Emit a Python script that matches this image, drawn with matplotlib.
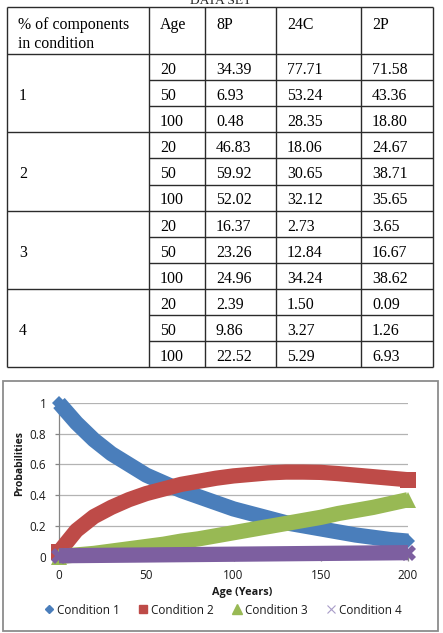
import matplotlib
matplotlib.use("Agg")
import matplotlib.pyplot as plt
from matplotlib.lines import Line2D
from matplotlib.patches import Rectangle

# ---------------- data ----------------
title_text = "DATA SET"
header_first = "% of components"
header_second = "in condition"
col_names = ["Age", "8P", "24C", "2P"]
groups = ["1", "2", "3", "4"]
ages = [20, 50, 100]
v_8P = [34.39, 6.93, 0.48, 46.83, 59.92, 52.02, 16.37, 23.26, 24.96, 2.39, 9.86, 22.52]
v_24C = [77.71, 53.24, 28.35, 18.06, 30.65, 32.12, 2.73, 12.84, 34.24, 1.50, 3.27, 5.29]
v_2P = [71.58, 43.36, 18.80, 24.67, 38.71, 35.65, 3.65, 16.67, 38.62, 0.09, 1.26, 6.93]

years = [0, 10, 20, 30, 40, 50, 60, 70, 80, 90, 100,
         110, 120, 130, 140, 150, 160, 170, 180, 190, 200]
cond1 = [1.00, 0.87, 0.76, 0.67, 0.60, 0.53, 0.48, 0.43, 0.39, 0.35, 0.31,
         0.28, 0.25, 0.22, 0.20, 0.18, 0.16, 0.14, 0.125, 0.11, 0.10]
cond2 = [0.03, 0.17, 0.26, 0.32, 0.37, 0.41, 0.44, 0.47, 0.49, 0.51, 0.525,
         0.535, 0.545, 0.55, 0.55, 0.548, 0.54, 0.53, 0.52, 0.51, 0.50]
cond3 = [0.00, 0.01, 0.02, 0.035, 0.05, 0.065, 0.08, 0.10, 0.115, 0.135, 0.155,
         0.175, 0.195, 0.215, 0.235, 0.255, 0.28, 0.30, 0.32, 0.345, 0.37]
cond4 = [0.005, 0.006, 0.007, 0.008, 0.009, 0.010, 0.011, 0.012, 0.013, 0.014, 0.015,
         0.016, 0.017, 0.018, 0.019, 0.020, 0.021, 0.022, 0.023, 0.024, 0.025]
series_names = ["Condition 1", "Condition 2", "Condition 3", "Condition 4"]
x_ticks = [0, 50, 100, 150, 200]
y_ticks = [0, 0.2, 0.4, 0.6, 0.8, 1]
y_tick_labels = ["0", "0.2", "0.4", "0.6", "0.8", "1"]
x_title = "Age (Years)"
y_title = "Probabilities"

# ---------------- layout ----------------
W, H = 443, 633
fig = plt.figure(figsize=(W / 100, H / 100), dpi=100)
bg = fig.add_axes([0, 0, 1, 1])
bg.set_xlim(0, W)
bg.set_ylim(H, 0)
bg.axis("off")

serif = "Liberation Serif"
sans = "Open Sans"
tfs = 11.4
line_col = "#2b2b2b"

col_edges = [7, 149, 205, 276, 361, 433]
header_top, header_bot = 7, 54
row_h = 26.1
n_rows = len(v_8P)
row_edges = [header_bot + i * row_h for i in range(n_rows + 1)]
table_bot = row_edges[-1]

bg.text((col_edges[0] + col_edges[-1]) / 2 + 1, 4.5, title_text, family=serif,
        fontsize=9.7, ha="center", va="baseline", color="#222222")

for x in col_edges:
    bg.vlines(x, header_top, table_bot, color=line_col, lw=1.0)
bg.hlines([header_top, header_bot, table_bot], col_edges[0], col_edges[-1],
          color=line_col, lw=1.0)
for i in range(1, n_rows):
    y = row_edges[i]
    if i % 3 == 0:
        bg.hlines(y, col_edges[0], col_edges[-1], color=line_col, lw=1.0)
    else:
        bg.hlines(y, col_edges[1], col_edges[-1], color=line_col, lw=1.0)

pad = 11
bg.text(col_edges[0] + pad, 29, header_first, family=serif, fontsize=tfs, va="baseline")
bg.text(col_edges[0] + pad, 48.5, header_second, family=serif, fontsize=tfs, va="baseline")
for j, name in enumerate(col_names):
    bg.text(col_edges[j + 1] + pad, 29, name, family=serif, fontsize=tfs, va="baseline")

for i in range(n_rows):
    yb = row_edges[i] + 20
    vals = [str(ages[i % 3]), "%.2f" % v_8P[i], "%.2f" % v_24C[i], "%.2f" % v_2P[i]]
    for j, s in enumerate(vals):
        bg.text(col_edges[j + 1] + pad, yb, s, family=serif, fontsize=tfs, va="baseline")
    if i % 3 == 1:
        bg.text(col_edges[0] + pad + 1, yb, groups[i // 3], family=serif,
                fontsize=tfs, va="baseline")

bg.add_patch(Rectangle((3, 381), 435, 250, fill=False, ec="#8c8c8c", lw=1.3))

# ---------------- chart ----------------
x0, x1 = 59, 408
y0, y1 = 556.5, 403
ax = fig.add_axes([x0 / W, (H - y0) / H, (x1 - x0) / W, (y0 - y1) / H])
ax.patch.set_alpha(0)
ax.set_xlim(0, 200)
ax.set_ylim(0, 1)
ax.set_xticks(x_ticks)
ax.set_yticks(y_ticks)
ax.set_yticklabels(y_tick_labels)
for s in ["top", "right"]:
    ax.spines[s].set_visible(False)
for s in ["left", "bottom"]:
    ax.spines[s].set_color("#868686")
    ax.spines[s].set_linewidth(0.9)
ax.tick_params(axis="both", length=3, width=0.9, color="#868686",
               labelsize=8.5, labelcolor="#1a1a1a")
ax.tick_params(axis="y", pad=6)
ax.tick_params(axis="x", pad=6)
for lab in ax.get_xticklabels() + ax.get_yticklabels():
    lab.set_family(sans)
ax.yaxis.grid(True, color="#b3b3b3", lw=0.9)
ax.set_axisbelow(True)

colors = ["#4a7ebb", "#be4b48", "#98b954", "#7d5fa0"]
markers = ["D", "s", "^", "X"]
msizes = [7.6, 11, 11, 11]
data = [cond1, cond2, cond3, cond4]
lw = 11
for k in range(4):
    ax.plot(years, data[k], color=colors[k], lw=lw, solid_capstyle="butt",
            solid_joinstyle="round", marker=markers[k], ms=msizes[k],
            markevery=[0, len(years) - 1],
            mec=colors[k], mew=0, clip_on=False, zorder=3 + k)

fig.text(242 / W, 1 - 592 / H, x_title, family=sans, fontweight="bold",
         fontsize=7.8, ha="center", va="center", color="#1a1a1a")
fig.text(19.5 / W, 1 - 464 / H, y_title, family=sans, fontweight="bold",
         fontsize=7.5, ha="center", va="center", rotation=90, color="#1a1a1a")

handles = [
    Line2D([], [], ls="none", marker="D", ms=4.5, color=colors[0]),
    Line2D([], [], ls="none", marker="s", ms=6, color=colors[1]),
    Line2D([], [], ls="none", marker="^", ms=6.5, color=colors[2]),
    Line2D([], [], ls="none", marker="x", ms=6, mew=0.8, color="#a89cc8"),
]
leg = fig.legend(handles, series_names, loc="center", ncol=4,
                 bbox_to_anchor=(223 / W, 1 - 610 / H), frameon=False,
                 prop={"family": sans, "size": 8.5}, handlelength=0.8,
                 handletextpad=0.25, columnspacing=1.6, borderaxespad=0)
for t in leg.get_texts():
    t.set_color("#1a1a1a")

fig.savefig("out.png", dpi=100)
